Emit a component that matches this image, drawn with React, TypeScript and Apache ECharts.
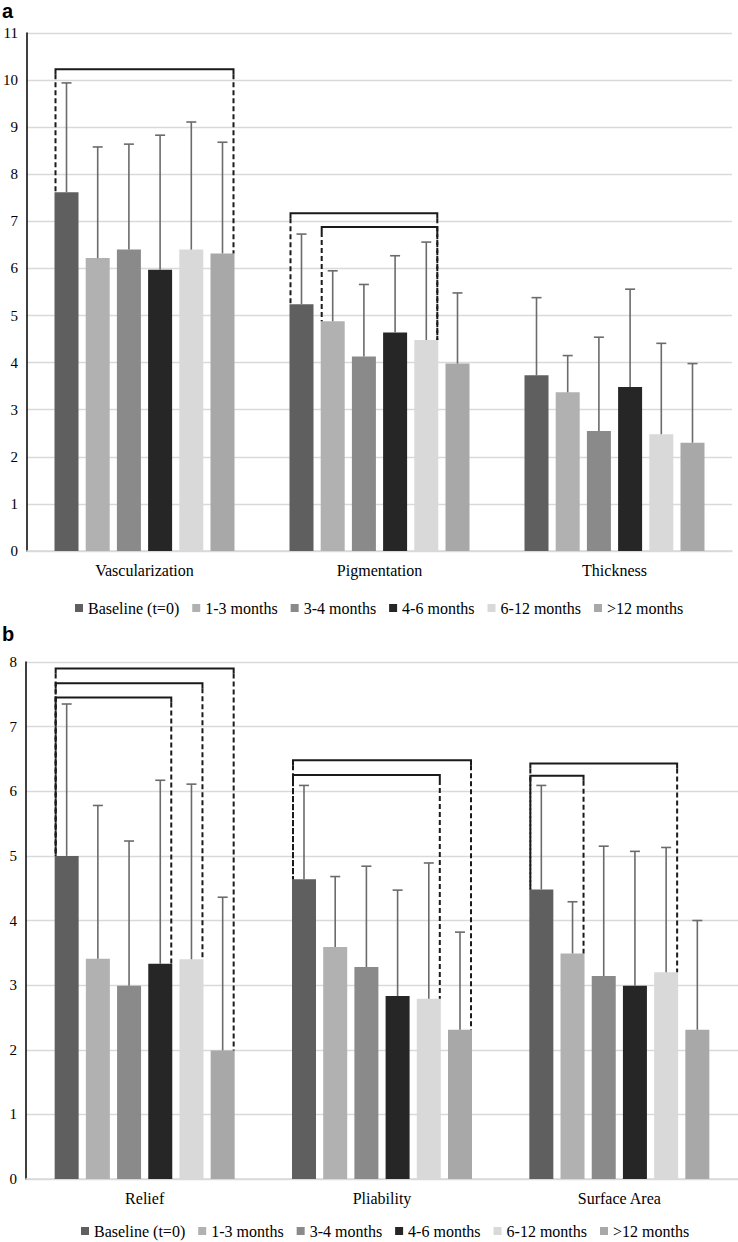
import React, { useEffect, useRef } from "react";
import * as echarts from "echarts";

const CATS_A = ["Vascularization", "Pigmentation", "Thickness"];
const CATS_B = ["Relief", "Pliability", "Surface Area"];
const GROUPS = ["Baseline (t=0)", "1-3 months", "3-4 months", "4-6 months", "6-12 months", ">12 months"];
const COLORS = ["#5f5f5f", "#b1b1b1", "#8a8a8a", "#262626", "#d9d9d9", "#a8a8a8"];

// Panel a: means per group (rows) over categories (columns)
const MEAN_A = [
  [7.62, 5.24, 3.73],
  [6.22, 4.88, 3.37],
  [6.4, 4.13, 2.55],
  [5.97, 4.64, 3.48],
  [6.4, 4.48, 2.48],
  [6.32, 3.98, 2.3],
];
const SD_A = [
  [2.32, 1.49, 1.65],
  [2.36, 1.07, 0.78],
  [2.24, 1.53, 1.99],
  [2.86, 1.63, 2.08],
  [2.71, 2.08, 1.93],
  [2.36, 1.5, 1.68],
];
// Panel b
const MEAN_B = [
  [5.0, 4.64, 4.48],
  [3.41, 3.59, 3.49],
  [2.99, 3.28, 3.14],
  [3.33, 2.83, 2.99],
  [3.4, 2.79, 3.2],
  [1.99, 2.31, 2.31],
];
const SD_B = [
  [2.35, 1.45, 1.61],
  [2.37, 1.09, 0.8],
  [2.24, 1.56, 2.01],
  [2.84, 1.64, 2.08],
  [2.71, 2.1, 1.93],
  [2.37, 1.51, 1.69],
];
// significance brackets: [category, fromGroup, toGroup, level]
const BRACKETS_A = [
  [0, 0, 5, 10.23],
  [1, 0, 4, 7.17],
  [1, 1, 4, 6.88],
];
const BRACKETS_B = [
  [0, 0, 5, 7.9],
  [0, 0, 4, 7.67],
  [0, 0, 3, 7.45],
  [1, 0, 5, 6.48],
  [1, 0, 4, 6.25],
  [2, 0, 4, 6.43],
  [2, 0, 1, 6.24],
];
const Y_MAX_A = 11;
const Y_MAX_B = 8;

const BAR_W = 24;
const GAP_RATIO = 0.3;
const STEP = BAR_W * (1 + GAP_RATIO);
const SERIF = "Liberation Serif";
const SANS = "Liberation Sans";

function errRender(params: any, api: any) {
  const cat = api.value(0);
  const gi = api.value(1);
  const mean = api.value(2);
  const sd = api.value(3);
  const base = api.coord([cat, 0]);
  const x = base[0] + (gi - (GROUPS.length - 1) / 2) * STEP;
  const y1 = api.coord([cat, mean])[1];
  const y2 = api.coord([cat, mean + sd])[1];
  const st = { stroke: "#6b6b6b", lineWidth: 1.6 };
  return {
    type: "group",
    children: [
      { type: "line", shape: { x1: x, y1: y1, x2: x, y2: y2 }, style: st },
      { type: "line", shape: { x1: x - 5, y1: y2, x2: x + 5, y2: y2 }, style: st },
    ],
  };
}

function bracketRender(params: any, api: any) {
  const cat = api.value(0);
  const from = api.value(1);
  const to = api.value(2);
  const level = api.value(3);
  const topFrom = api.value(4);
  const topTo = api.value(5);
  const base = api.coord([cat, 0]);
  const mid = (GROUPS.length - 1) / 2;
  const xl = base[0] + (from - mid) * STEP - BAR_W / 2 + 1;
  const xr = base[0] + (to - mid) * STEP + BAR_W / 2 - 1;
  const yL = api.coord([cat, level])[1];
  const yF = api.coord([cat, topFrom])[1];
  const yT = api.coord([cat, topTo])[1];
  const solid = { stroke: "#1a1a1a", lineWidth: 2, fill: "none" };
  const dashed = { stroke: "#1a1a1a", lineWidth: 2, lineDash: [5, 3] };
  return {
    type: "group",
    children: [
      { type: "polyline", shape: { points: [[xl, yL + 5], [xl, yL], [xr, yL], [xr, yL + 5]] }, style: solid },
      { type: "line", shape: { x1: xl, y1: yL + 5, x2: xl, y2: yF }, style: dashed },
      { type: "line", shape: { x1: xr, y1: yL + 5, x2: xr, y2: yT }, style: dashed },
    ],
  };
}

function buildPanel(idx: number, means: number[][], sds: number[][], brackets: number[][]) {
  const series: any[] = GROUPS.map((g, i) => ({
    type: "bar",
    name: g,
    xAxisIndex: idx,
    yAxisIndex: idx,
    data: means[i],
    barWidth: BAR_W,
    barGap: "30%",
    itemStyle: { color: COLORS[i] },
    z: 2,
  }));
  const errData: number[][] = [];
  means.forEach((row, i) => row.forEach((m, c) => errData.push([c, i, m, sds[i][c]])));
  series.push({
    type: "custom",
    xAxisIndex: idx,
    yAxisIndex: idx,
    renderItem: errRender,
    data: errData,
    encode: { x: 0, y: 2 },
    silent: true,
    z: 3,
  });
  series.push({
    type: "custom",
    xAxisIndex: idx,
    yAxisIndex: idx,
    renderItem: bracketRender,
    data: brackets.map((b) => [b[0], b[1], b[2], b[3], means[b[1]][b[0]], means[b[2]][b[0]]]),
    encode: { x: 0, y: 3 },
    silent: true,
    z: 4,
  });
  return series;
}

function xAxisCfg(idx: number, cats: string[]) {
  return {
    type: "category",
    gridIndex: idx,
    data: cats,
    axisTick: { show: false },
    axisLine: { show: true, lineStyle: { color: "#d9d9d9", width: 1.5 } },
    axisLabel: { color: "#000", fontFamily: SERIF, fontSize: 16, margin: 11 },
  };
}

function yAxisCfg(idx: number, max: number) {
  return {
    type: "value",
    gridIndex: idx,
    min: 0,
    max: max,
    interval: 1,
    axisTick: { show: false },
    axisLine: { show: true, lineStyle: { color: "#000", width: 1.5 } },
    splitLine: { show: true, lineStyle: { color: "#d9d9d9", width: 1.3 } },
    axisLabel: { color: "#000", fontFamily: SERIF, fontSize: 15, margin: 9 },
  };
}

function legendCfg(left: number, top: number) {
  return {
    left: left,
    top: top,
    data: GROUPS,
    icon: "rect",
    itemWidth: 8,
    itemHeight: 8,
    itemGap: 13,
    textStyle: { color: "#000", fontFamily: SERIF, fontSize: 16 },
    selectedMode: false,
  };
}

export default function App() {
  const ref = useRef<HTMLDivElement>(null);
  useEffect(() => {
    if (!ref.current) return;
    const chart = echarts.init(ref.current, null, { renderer: "svg" });
    chart.setOption({
      animation: false,
      backgroundColor: "#fff",
      grid: [
        { left: 26, top: 33, width: 706, height: 518 },
        { left: 26, top: 662, width: 712, height: 517 },
      ],
      xAxis: [xAxisCfg(0, CATS_A), xAxisCfg(1, CATS_B)],
      yAxis: [yAxisCfg(0, Y_MAX_A), yAxisCfg(1, Y_MAX_B)],
      legend: [legendCfg(70, 595), legendCfg(76, 1218)],
      graphic: [
        {
          type: "text",
          left: 2,
          top: 1,
          style: { text: "a", fontFamily: SANS, fontWeight: "bold", fontSize: 20, fill: "#000" },
        },
        {
          type: "text",
          left: 2,
          top: 624,
          style: { text: "b", fontFamily: SANS, fontWeight: "bold", fontSize: 20, fill: "#000" },
        },
      ],
      series: [...buildPanel(0, MEAN_A, SD_A, BRACKETS_A), ...buildPanel(1, MEAN_B, SD_B, BRACKETS_B)],
    });
    return () => chart.dispose();
  }, []);
  return (
    <div
      ref={ref}
      style={{ position: "absolute", left: 0, top: 0, width: 738, height: 1242, background: "#fff" }}
    />
  );
}
